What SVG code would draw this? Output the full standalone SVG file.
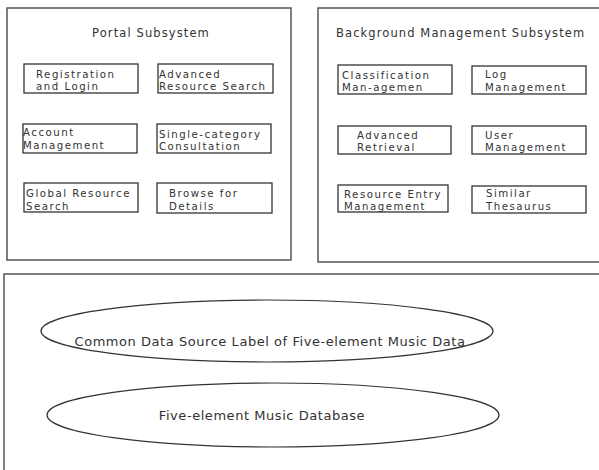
<svg xmlns="http://www.w3.org/2000/svg" width="599" height="470" viewBox="0 0 599 470">
<style>
.panel{fill:none;stroke:#555;stroke-width:1.5}
.box{fill:#fff;stroke:#333;stroke-width:1.3}
.ell{fill:#fff;stroke:#333;stroke-width:1.2}
text{font-family:"DejaVu Sans","Liberation Sans",sans-serif;fill:#333;font-size:10.2px;letter-spacing:1.5px}
.title{font-size:11.5px;letter-spacing:1.1px}
.big{font-size:13px;letter-spacing:0.55px}
</style>
<rect width="599" height="470" fill="#fff"/>
<g id="portal">
<rect class="panel" x="7" y="8" width="284" height="252"/>
<text class="title" x="151" y="37" text-anchor="middle">Portal Subsystem</text>
</g>
<g id="registration"><rect class="box" x="24" y="64" width="114" height="29"/><text x="36" y="77.5">Registration</text><text x="36" y="90">and Login</text></g>
<g id="advanced-search"><rect class="box" x="158" y="64" width="115" height="29"/><text x="159" y="77.5">Advanced</text><text x="159" y="90">Resource Search</text></g>
<g id="account"><rect class="box" x="23" y="124" width="114" height="29"/><text x="23" y="136">Account</text><text x="23" y="148.5">Management</text></g>
<g id="single-category"><rect class="box" x="157" y="124" width="114" height="29"/><text x="159" y="137.5">Single-category</text><text x="159" y="150">Consultation</text></g>
<g id="global-search"><rect class="box" x="24" y="183" width="114" height="29"/><text x="26" y="197">Global Resource</text><text x="26" y="209.5">Search</text></g>
<g id="browse"><rect class="box" x="157" y="183" width="115" height="30"/><text x="169" y="197">Browse for</text><text x="169" y="209.5">Details</text></g>
<g id="background">
<rect class="panel" x="318" y="8" width="290" height="254"/>
<text class="title" x="336" y="37">Background Management Subsystem</text>
</g>
<g id="classification"><rect class="box" x="338" y="65" width="114" height="29"/><text x="342" y="78.5">Classification</text><text x="342" y="91">Man-agemen</text></g>
<g id="log"><rect class="box" x="472" y="66" width="114" height="28"/><text x="485" y="78">Log</text><text x="485" y="90.5">Management</text></g>
<g id="advanced-retrieval"><rect class="box" x="338" y="126" width="113" height="28"/><text x="357" y="138.5">Advanced</text><text x="357" y="151">Retrieval</text></g>
<g id="user"><rect class="box" x="472" y="126" width="114" height="28"/><text x="485" y="138.5">User</text><text x="485" y="151">Management</text></g>
<g id="resource-entry"><rect class="box" x="338" y="185" width="110" height="27"/><text x="344" y="197.5">Resource Entry</text><text x="344" y="210">Management</text></g>
<g id="thesaurus"><rect class="box" x="472" y="186" width="114" height="27"/><text x="486" y="197">Similar</text><text x="486" y="209.5">Thesaurus</text></g>
<g id="data-layer">
<rect class="panel" x="4" y="274" width="610" height="210"/>
</g>
<g id="label-ellipse"><ellipse class="ell" cx="267" cy="331" rx="226" ry="31"/><text class="big" x="270" y="346" text-anchor="middle">Common Data Source Label of Five-element Music Data</text></g>
<g id="database-ellipse"><ellipse class="ell" cx="273" cy="415" rx="226" ry="32"/><text class="big" x="262" y="420" text-anchor="middle">Five-element Music Database</text></g>
<g id="connectors"></g>
</svg>
